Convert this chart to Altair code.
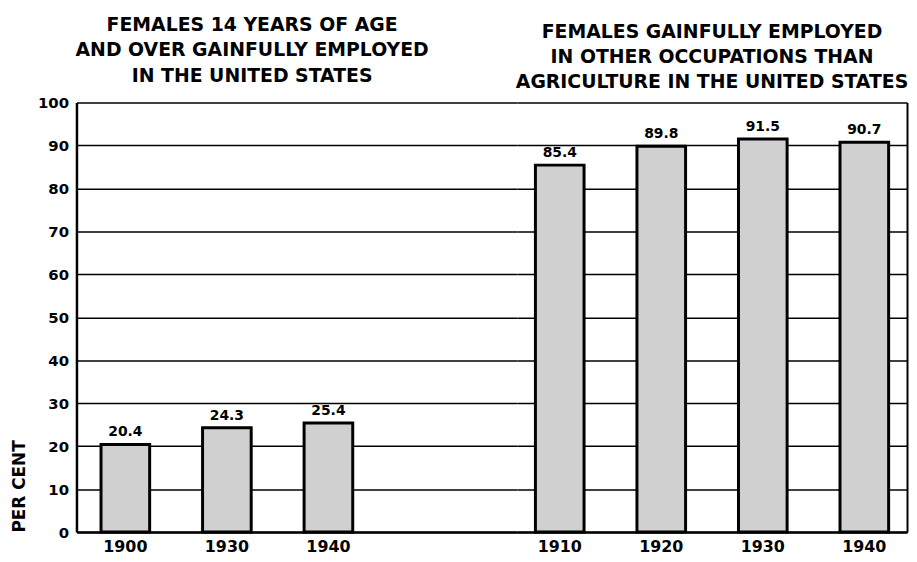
import altair as alt
import pandas as pd

# ---- data ----
left_years = ["1900", "1930", "1940"]
left_values = [20.4, 24.3, 25.4]
right_years = ["1910", "1920", "1930", "1940"]
right_values = [85.4, 89.8, 91.5, 90.7]
left_title = ["FEMALES 14 YEARS OF AGE", "AND OVER GAINFULLY EMPLOYED", "IN THE UNITED STATES"]
right_title = ["FEMALES GAINFULLY EMPLOYED", "IN OTHER OCCUPATIONS THAN", "AGRICULTURE IN THE UNITED STATES"]
y_ticks = list(range(0, 101, 10))
y_title = "PER CENT"

FONT = "DejaVu Sans"
PLOT_H = 433
BAR_FILL = "#d0d0d0"


def panel(years, values, title, width, pad_outer, align, left_axis, title_dx):
    df = pd.DataFrame({"year": years, "value": values,
                       "label": [f"{v:.1f}" for v in values]})
    x_axis = alt.Axis(title=None, labelAngle=0, labelFont=FONT, labelFontWeight="bold",
                      labelFontSize=16, labelColor="black", ticks=False, labelPadding=7,
                      domain=True, domainColor="black", domainWidth=2.5, grid=False)
    if left_axis:
        y_axis = alt.Axis(values=y_ticks, orient="left", title=y_title, titleAnchor="start",
                          titleFont=FONT, titleFontSize=17, titleFontWeight="bold",
                          titleColor="black", titlePadding=9, labelFont=FONT,
                          labelFontWeight="bold", labelFontSize=15, labelColor="black",
                          labelPadding=8, ticks=False, grid=True, gridColor="black",
                          gridWidth=1.5, gridOpacity=1, domain=True, domainColor="black",
                          domainWidth=2.5)
    else:
        y_axis = alt.Axis(values=y_ticks, orient="right", title=None, labels=False,
                          ticks=False, grid=True, gridColor="black", gridWidth=1.5,
                          gridOpacity=1, domain=True, domainColor="black", domainWidth=2)
    x = alt.X("year:N", sort=years,
              scale=alt.Scale(paddingInner=0.521, paddingOuter=pad_outer, align=align),
              axis=x_axis)
    y = alt.Y("value:Q", scale=alt.Scale(domain=[0, 100], nice=False), axis=y_axis)
    bars = alt.Chart(df).mark_bar(fill=BAR_FILL, stroke="black", strokeWidth=3).encode(x=x, y=y)
    text = alt.Chart(df).mark_text(baseline="bottom", dy=-5, font=FONT, fontWeight="bold",
                                   fontSize=14, color="black").encode(
        x=alt.X("year:N", sort=years), y=alt.Y("value:Q"), text="label:N")
    return alt.layer(bars, text).properties(
        width=width, height=PLOT_H,
        title=alt.TitleParams(title, dx=title_dx, anchor="middle", font=FONT, fontSize=19,
                              fontWeight="bold", color="black", lineHeight=25.5, offset=10))


left = panel(left_years, left_values, left_title, 444, 0.930, 0.130, True, -45)
right = panel(right_years, right_values, right_title, 393, 0.181, 0.5, False, 0)

chart = alt.hconcat(left, right, spacing=0, bounds="flush").configure_view(stroke=None).properties(
    padding={"left": 2, "top": 6, "right": 0, "bottom": 0})

chart.save("out.html", embed_options={"renderer": "svg", "actions": False})
